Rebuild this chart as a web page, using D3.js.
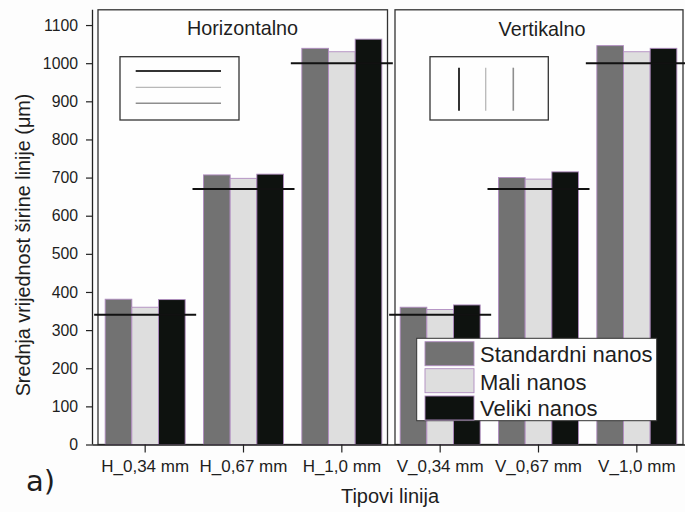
<!DOCTYPE html>
<html>
<head>
<meta charset="utf-8">
<script src="https://cdn.jsdelivr.net/npm/d3@7/dist/d3.min.js"></script>
<style>
  html, body { margin: 0; padding: 0; background: #fdfdfd; }
  svg { display: block; font-family: "Liberation Sans", Arial, sans-serif; }
  text { fill: #1e1e1e; }
</style>
</head>
<body>
<svg id="chart" width="685" height="512"></svg>
<script>
const categories = ["H_0,34 mm", "H_0,67 mm", "H_1,0 mm", "V_0,34 mm", "V_0,67 mm", "V_1,0 mm"];
const seriesNames = ["Standardni nanos", "Mali nanos", "Veliki nanos"];
const standardni = [381, 707, 1039, 360, 700, 1046];
const mali = [360, 698, 1030, 354, 696, 1030];
const veliki = [380, 709, 1063, 366, 715, 1039];
const nominal = [340, 670, 1000, 340, 670, 1000];
const yTicks = [0, 100, 200, 300, 400, 500, 600, 700, 800, 900, 1000, 1100];
const panelTitles = ["Horizontalno", "Vertikalno"];
const seriesColors = ["#727272", "#dedede", "#0e120f"];
const seriesValues = [standardni, mali, veliki];

const svg = d3.select("#chart");

const y = d3.scaleLinear().domain([0, 1140]).range([444.5, 9.8]);
const x = d3.scaleBand().domain(categories).range([96, 686]).padding(0);
const step = x.step();
const groupW = 80;
const xs = d3.scaleBand().domain(seriesNames).range([-groupW / 2, groupW / 2]).padding(0);

// panel frames
const panels = [
  { x0: x(categories[0]) + 2, x1: x(categories[2]) + step - 3.5, title: panelTitles[0] },
  { x0: x(categories[3]) + 4, x1: Math.min(x(categories[5]) + step - 3, 683), title: panelTitles[1] }
];
svg.selectAll("rect.panel").data(panels).enter().append("rect")
  .attr("class", "panel")
  .attr("x", d => d.x0).attr("y", y(1140))
  .attr("width", d => d.x1 - d.x0).attr("height", y(0) - y(1140))
  .attr("fill", "#fefefe").attr("stroke", "#333").attr("stroke-width", 1.3);

// bars
const rows = [];
categories.forEach((c, i) => {
  seriesNames.forEach((s, j) => rows.push({ c, s, j, v: seriesValues[j][i] }));
});
svg.append("g").selectAll("rect").data(rows).enter().append("rect")
  .attr("x", d => x(d.c) + step / 2 + xs(d.s))
  .attr("y", d => y(d.v))
  .attr("width", xs.bandwidth())
  .attr("height", d => y(0) - y(d.v))
  .attr("fill", d => seriesColors[d.j])
  .attr("stroke", "#b08cc0").attr("stroke-width", 0.9);

// nominal reference lines
svg.append("g").selectAll("line").data(categories).enter().append("line")
  .attr("x1", (c) => x(c) + step / 2 - 51)
  .attr("x2", (c) => Math.min(x(c) + step / 2 + 51, 685))
  .attr("y1", (c, i) => y(nominal[i]))
  .attr("y2", (c, i) => y(nominal[i]))
  .attr("stroke", "#111").attr("stroke-width", 2);

// panel titles
svg.selectAll("text.ptitle").data(panels).enter().append("text")
  .attr("class", "ptitle")
  .attr("x", (d, i) => i === 0 ? 242.5 : 542)
  .attr("y", (d, i) => i === 0 ? 35 : 36)
  .attr("text-anchor", "middle")
  .attr("font-size", 19.8)
  .text(d => d.title);

// inset pictograms
const insL = svg.append("g");
insL.append("rect").attr("x", 120).attr("y", 56.7).attr("width", 119).attr("height", 63.3)
  .attr("fill", "none").attr("stroke", "#333").attr("stroke-width", 1.3);
[[71, "#333", 2], [87.3, "#b8b8b8", 1.3], [103.3, "#8e8e8e", 1.6]].forEach(([yy, col, w]) => {
  insL.append("line").attr("x1", 135.7).attr("x2", 221).attr("y1", yy).attr("y2", yy)
    .attr("stroke", col).attr("stroke-width", w);
});
const insR = svg.append("g");
insR.append("rect").attr("x", 430).attr("y", 56.7).attr("width", 118.3).attr("height", 63.3)
  .attr("fill", "none").attr("stroke", "#333").attr("stroke-width", 1.3);
[[459, "#333", 2], [485.7, "#b8b8b8", 1.3], [513.3, "#8e8e8e", 1.6]].forEach(([xx, col, w]) => {
  insR.append("line").attr("x1", xx).attr("x2", xx).attr("y1", 67.7).attr("y2", 110.7)
    .attr("stroke", col).attr("stroke-width", w);
});

// y axis
const yAxisX = 93;
const gy = svg.append("g").attr("transform", `translate(${yAxisX},0)`);
gy.call(d3.axisLeft(y).tickValues(d3.range(0, 1141, 20)).tickSize(4).tickFormat(""));
gy.call(d3.axisLeft(y).tickValues(yTicks).tickSize(7).tickPadding(8).tickFormat(d3.format("d")));
gy.selectAll("path.domain").attr("stroke", "#222").attr("stroke-width", 1.3);
gy.selectAll("line").attr("stroke", "#222").attr("stroke-width", 1.2);
gy.selectAll("text").attr("font-size", 15.8).attr("font-family", "Liberation Sans, Arial, sans-serif").attr("fill", "#1e1e1e");
gy.select("path.domain").attr("d", `M-0.5,${y(0)}V${y(1140)}`);

// x axis
const gx = svg.append("g").attr("transform", `translate(0,${y(0)})`);
gx.call(d3.axisBottom(x).tickSize(8).tickPadding(7));
gx.select("path.domain").attr("d", `M${yAxisX},0.5H685`).attr("stroke", "#222").attr("stroke-width", 1.3);
gx.selectAll("line").attr("stroke", "#222").attr("stroke-width", 1.2);
gx.selectAll("text").attr("font-size", 17).attr("font-family", "Liberation Sans, Arial, sans-serif").attr("fill", "#1e1e1e");

// axis titles
svg.append("text").attr("x", 390).attr("y", 502.7).attr("text-anchor", "middle")
  .attr("font-size", 20).text("Tipovi linija");
svg.append("text").attr("transform", "translate(30,245) rotate(-90)")
  .attr("text-anchor", "middle").attr("font-size", 19.8)
  .text("Srednja vrijednost širine linije (μm)");

// a) label
svg.append("text").attr("x", 26).attr("y", 491).attr("font-size", 29)
  .attr("font-family", "DejaVu Sans, sans-serif").text("a)");

// legend
const lg = svg.append("g");
lg.append("rect").attr("x", 416.7).attr("y", 338.3).attr("width", 240).attr("height", 82.4)
  .attr("fill", "#fefefe").attr("stroke", "#333").attr("stroke-width", 1);
const legY = [341.7, 368.7, 396];
const legBase = [361.7, 390, 416];
seriesNames.forEach((s, j) => {
  lg.append("rect").attr("x", 425).attr("y", legY[j]).attr("width", 49).attr("height", 24)
    .attr("fill", seriesColors[j]).attr("stroke", "#b08cc0").attr("stroke-width", 0.9);
  lg.append("text").attr("x", 480).attr("y", legBase[j]).attr("font-size", 22).text(s);
});
</script>
</body>
</html>
